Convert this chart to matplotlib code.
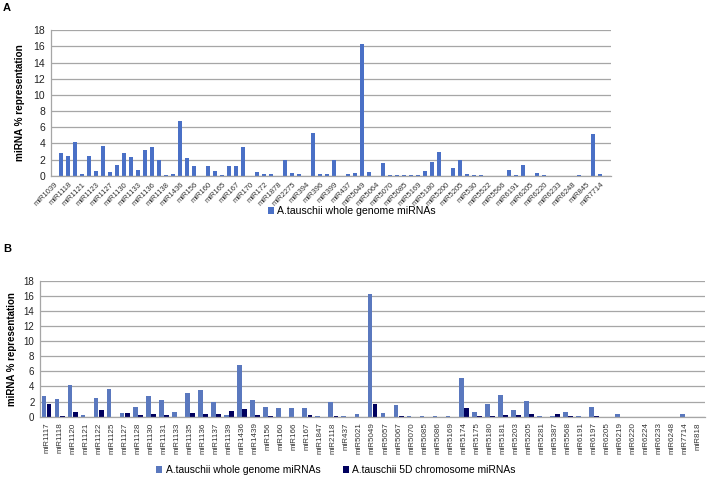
import matplotlib
matplotlib.use("Agg")
import matplotlib.pyplot as plt
import numpy as np

plt.rcParams['font.family'] = ['Liberation Sans', 'DejaVu Sans']

# ---------------- Panel A data ----------------
labels_a = ["miR1039", "miR1118", "miR1121", "miR1123", "miR1127", "miR1130", "miR1133",
            "miR1136", "miR1138", "miR1436", "miR156", "miR160", "miR165", "miR167",
            "miR170", "miR172", "miR1878", "miR2275", "miR394", "miR396", "miR399",
            "miR437", "miR5049", "miR5064", "miR5070", "miR5085", "miR5169", "miR5180",
            "miR5200", "miR5205", "miR530", "miR5522", "miR5566", "miR6191", "miR6205",
            "miR6220", "miR6233", "miR6248", "miR845", "miR7714"]
values_a = [0, 2.8, 2.4, 4.15, 0.17, 2.5, 0.55, 3.7, 0.45, 1.3,
            2.75, 2.3, 0.65, 3.2, 3.6, 1.95, 0.03, 0.2, 6.8, 2.25,
            1.25, 0, 1.15, 0.55, 0.05, 1.15, 1.15, 3.5, 0, 0.4,
            0.15, 0.15, 0, 1.95, 0.3, 0.15, 0, 5.3, 0.25, 0.2,
            1.9, 0, 0.15, 0.35, 16.3, 0.45, 0.02, 1.55, 0.1, 0.03,
            0.03, 0.1, 0.1, 0.6, 1.7, 2.9, 0.02, 0.9, 2.0, 0.15,
            0.03, 0.03, 0, 0, 0, 0.65, 0.1, 1.3, 0, 0.35,
            0.03, 0, 0, 0, 0, 0.03, 0, 5.15, 0.25, 0]
series_a = "A.tauschii whole genome miRNAs"

# ---------------- Panel B data ----------------
labels_b = ["miR1117", "miR1118", "miR1120", "miR1121", "miR1122", "miR1125", "miR1127",
            "miR1128", "miR1130", "miR1131", "miR1133", "miR1135", "miR1136", "miR1137",
            "miR1139", "miR1436", "miR1439", "miR156", "miR160", "miR166", "miR167",
            "miR1847", "miR2118", "miR437", "miR5021", "miR5049", "miR5057", "miR5067",
            "miR5070", "miR5085", "miR5086", "miR5169", "miR5174", "miR5175", "miR5180",
            "miR5181", "miR5203", "miR5205", "miR5281", "miR5387", "miR5568", "miR6191",
            "miR6197", "miR6205", "miR6219", "miR6220", "miR6224", "miR6233", "miR6248",
            "miR7714", "miR818"]
whole_b = [2.78, 2.35, 4.15, 0.18, 2.47, 3.68, 0.44, 1.3, 2.75, 2.27,
           0.62, 3.18, 3.6, 1.95, 0.22, 6.8, 2.22, 1.25, 1.15, 1.15,
           1.15, 0.15, 1.95, 0.15, 0.35, 16.3, 0.53, 1.55, 0.15, 0.05,
           0.15, 0.05, 5.12, 0.62, 1.72, 2.88, 0.9, 2.08, 0.15, 0.03,
           0.66, 0.05, 1.3, 0, 0.35, 0, 0, 0, 0, 0.3, 0]
chr5d_b = [1.72, 0.05, 0.57, 0, 0.88, 0, 0.44, 0.26, 0.35, 0.18,
           0, 0.44, 0.4, 0.35, 0.75, 0.97, 0.18, 0.05, 0, 0,
           0.22, 0, 0.1, 0, 0, 1.63, 0, 0.13, 0, 0,
           0, 0, 1.15, 0.13, 0.05, 0.26, 0.26, 0.35, 0, 0.3,
           0.13, 0, 0.05, 0, 0, 0, 0, 0, 0, 0, 0]
series_b = ["A.tauschii whole genome miRNAs", "A.tauschii 5D chromosome miRNAs"]

W, H = 708, 479
fig = plt.figure(figsize=(W / 100, H / 100), dpi=100)

grid_c = '#a6a6a6'
col_a = '#4a70c6'
col_b1 = '#5a78be'
col_b2 = '#00005e'


def style(ax, fs):
    ax.set_ylim(0, 18)
    ax.set_yticks(np.arange(0, 19, 2))
    ax.yaxis.grid(True, color=grid_c, lw=0.9)
    ax.set_axisbelow(True)
    for s in ['top', 'right']:
        ax.spines[s].set_visible(False)
    for s in ['left', 'bottom']:
        ax.spines[s].set_color(grid_c)
        ax.spines[s].set_linewidth(0.9)
    ax.tick_params(axis='y', length=0, labelsize=fs, pad=4, colors='#222222')
    ax.tick_params(axis='x', length=0, colors='#333333')


# Panel A
axA = fig.add_axes([50.7 / W, 1 - 175.7 / H, 560 / W, 145.4 / H])
xa = np.arange(len(values_a))
barsA = axA.bar(xa, values_a, width=0.55, color=col_a, label=series_a)
axA.set_xlim(-0.5, len(values_a) - 0.5)
style(axA, 7.5)
axA.set_xticks(xa[::2])
axA.set_xticklabels(labels_a, rotation=45, ha='right', rotation_mode='anchor',
                    fontsize=5.5, color='#333333')
axA.tick_params(axis='x', pad=4)
axA.set_ylabel("miRNA % representation", fontsize=7.2, fontweight='bold', labelpad=6)
axA.legend(handles=[barsA], loc='center', bbox_to_anchor=(352 / W, 1 - 211 / H),
           bbox_transform=fig.transFigure, frameon=False, fontsize=7.6,
           handlelength=0.6, handleheight=0.6, handletextpad=0.3)

# Panel B
axB = fig.add_axes([40 / W, 1 - 416.7 / H, 665 / W, 136 / H])
xb = np.arange(len(labels_b))
bw = 0.36
off = 0.2
b1 = axB.bar(xb - off, whole_b, width=bw, color=col_b1, label=series_b[0])
b2 = axB.bar(xb + off, chr5d_b, width=bw, color=col_b2, label=series_b[1])
axB.set_xlim(-0.5, len(labels_b) - 0.5)
style(axB, 7)
axB.set_xticks(xb)
axB.set_xticklabels(labels_b, rotation=90, fontsize=5.8, color='#333333')
axB.tick_params(axis='x', pad=4)
axB.set_ylabel("miRNA % representation", fontsize=7, fontweight='bold', labelpad=5)
axB.legend(handles=[b1, b2], loc='center', bbox_to_anchor=(336 / W, 1 - 470 / H),
           bbox_transform=fig.transFigure, frameon=False, fontsize=7.4, ncol=2,
           handlelength=0.6, handleheight=0.6, handletextpad=0.3, columnspacing=2.2)

fig.text(3 / W, 1 - 8 / H, "A", fontsize=8, fontweight='bold', va='center', ha='left')
fig.text(3 / W, 1 - 249 / H, "B", fontsize=8, fontweight='bold', va='center', ha='left')

fig.savefig("out.png", dpi=100)
